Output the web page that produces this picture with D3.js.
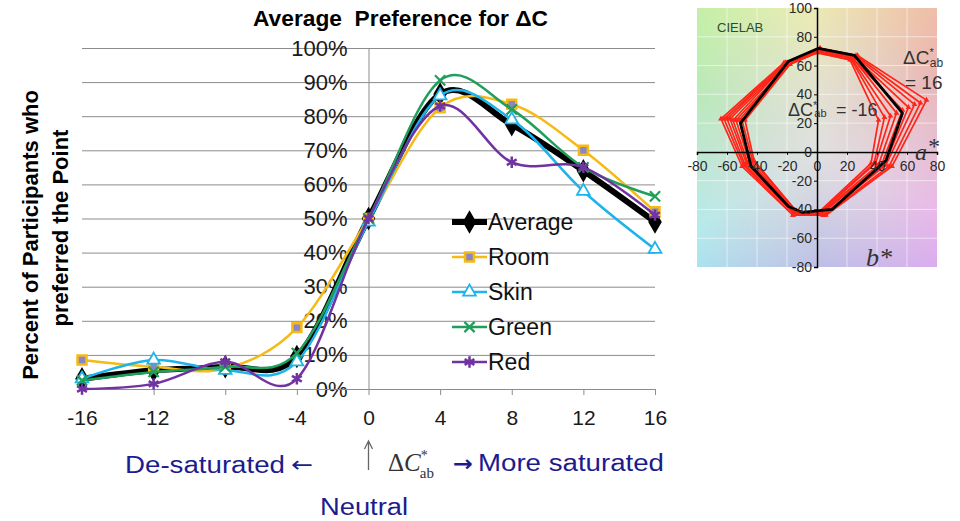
<!DOCTYPE html>
<html>
<head>
<meta charset="utf-8">
<script src="https://cdn.jsdelivr.net/npm/d3@7"></script>
<style>
  body { margin: 0; background: #fff; }
  svg { display: block; font-family: "Liberation Sans", Arial, sans-serif; }
</style>
</head>
<body>
<div id="chart"></div>
<script>
// ---- main chart data (percent of participants) ----
var deltaC = [-16, -12, -8, -4, 0, 4, 8, 12, 16];
var average = [3, 5.5, 6.5, 9.5, 50, 86.5, 77.5, 64, 49];
var room = [8.5, 6.5, 6, 18, 50, 82.5, 83.5, 70, 52];
var skin = [3, 8.5, 5.5, 8, 49, 86, 79, 58, 41];
var green = [2.5, 5, 6.5, 10.5, 50, 90.5, 82, 65, 56.5];
var red = [0, 1.5, 8, 3, 50, 83, 66.5, 65, 51];
var yTicks = [0, 10, 20, 30, 40, 50, 60, 70, 80, 90, 100];

var seriesNames = ["Average", "Room", "Skin", "Green", "Red"];
var seriesColors = ["#000000", "#f5ba14", "#1cb4ea", "#1f9e5c", "#7233a2"];

// ---- CIELAB inset data (a*, b*) ----
var labATicks = [-80, -60, -40, -20, 0, 20, 40, 60, 80];
var labBTicks = [-80, -60, -40, -20, 0, 20, 40, 60, 80, 100];
var blackLocus = [[1, 72], [25, 67], [57, 27], [46, -6], [10, -40], [-10, -42], [-19, -38], [-44, -10], [-51, 20], [-19, 63]];
// one polygon per deltaC level, -16 (inner) .. 16 (outer)
var redLoci = [
  [[0, 69], [22, 64], [41, 22], [36, -8], [0, -43], [-14, -41], [-42, -6], [-48, 22], [-18, 61]],
  [[0, 69], [23, 64], [45, 24], [38, -8], [1, -43], [-14, -41], [-43, -6], [-50, 22], [-18, 61]],
  [[1, 70], [23, 65], [49, 25], [39, -8], [1, -43], [-14, -42], [-44, -7], [-52, 22], [-19, 61]],
  [[1, 70], [24, 65], [53, 27], [41, -9], [2, -43], [-15, -42], [-45, -7], [-54, 22], [-19, 61]],
  [[1, 70], [24, 65], [57, 29], [43, -9], [3, -43], [-15, -42], [-46, -8], [-56, 22], [-20, 62]],
  [[1, 71], [25, 66], [61, 31], [45, -9], [4, -44], [-15, -43], [-47, -8], [-58, 23], [-20, 62]],
  [[2, 71], [26, 66], [65, 33], [46, -9], [4, -44], [-15, -43], [-48, -9], [-60, 23], [-21, 62]],
  [[2, 72], [26, 67], [69, 34], [48, -10], [5, -44], [-16, -44], [-49, -9], [-62, 23], [-21, 62]],
  [[2, 72], [27, 67], [73, 36], [50, -10], [6, -44], [-16, -44], [-50, -10], [-64, 23], [-22, 62]]
];

var W = 960, H = 521;
var navy = "#1c1c8e";
var plain = function (d) { return String(d); };   // hyphen minus like the original

var svg = d3.select("#chart").append("svg")
    .attr("width", W)
    .attr("height", H);

// ================= main line chart =================
var x = d3.scaleLinear().domain([-16, 16]).range([82, 655]);
var y = d3.scaleLinear().domain([0, 100]).range([389, 48]);

// horizontal gridlines
svg.append("g")
    .attr("transform", "translate(" + x(-16) + ",0)")
    .call(d3.axisLeft(y).tickValues(yTicks.slice(1)).tickSize(-(x(16) - x(-16))).tickFormat(""))
    .call(function (g) {
        g.select(".domain").remove();
        g.selectAll("line").attr("stroke", "#8c8c8c");
    });

// vertical axis through 0, labels sit inside the plot
svg.append("g")
    .attr("transform", "translate(" + x(0) + ",0)")
    .call(d3.axisLeft(y).tickValues(yTicks).tickSize(0).tickPadding(21).tickFormat(function (d) { return d + "%"; }))
    .call(function (g) {
        g.select(".domain").attr("stroke", "#8c8c8c");
        g.selectAll("text").attr("font-size", 22).attr("fill", "#1a1a1a")
            .attr("font-family", "Liberation Sans, Arial, sans-serif");
    });

// x axis along 0%
svg.append("g")
    .attr("transform", "translate(0," + y(0) + ")")
    .call(d3.axisBottom(x).tickValues(deltaC).tickSizeInner(6).tickSizeOuter(0).tickPadding(15).tickFormat(plain))
    .call(function (g) {
        g.select(".domain").attr("stroke", "#8c8c8c");
        g.selectAll("line").attr("stroke", "#8c8c8c");
        g.selectAll("text").attr("font-size", 21).attr("fill", "#1a1a1a")
            .attr("font-family", "Liberation Sans, Arial, sans-serif");
    });

// series
var allValues = [average, room, skin, green, red];
var series = seriesNames.map(function (n, i) {
    return { name: n, values: allValues[i], color: seriesColors[i], idx: i };
});

var line = d3.line()
    .x(function (d, i) { return x(deltaC[i]); })
    .y(function (d) { return y(d); })
    .curve(d3.curveCardinal.tension(0));

var symTimes = d3.symbolTimes || d3.symbolCross;
var symStar = d3.symbolAsterisk || d3.symbolCross;

function drawMarker(g, s) {
    if (s.idx === 0) {
        g.append("path").attr("d", d3.symbol(d3.symbolDiamond, 110)())
            .attr("fill", "#000").attr("stroke", "#000").attr("stroke-width", 2);
    } else if (s.idx === 1) {
        g.append("path").attr("d", d3.symbol(d3.symbolSquare, 80)())
            .attr("fill", "#8a86c4").attr("stroke", s.color).attr("stroke-width", 2.5);
    } else if (s.idx === 2) {
        g.append("path").attr("d", d3.symbol(d3.symbolTriangle, 70)())
            .attr("fill", "#fff").attr("stroke", s.color).attr("stroke-width", 1.8);
    } else if (s.idx === 3) {
        g.append("path").attr("d", d3.symbol(symTimes, 70)())
            .attr("fill", "none").attr("stroke", s.color).attr("stroke-width", 2.2);
    } else {
        g.append("path").attr("d", d3.symbol(symStar, 90)())
            .attr("fill", "none").attr("stroke", s.color).attr("stroke-width", 2.5);
    }
}

var sg = svg.append("g").selectAll("g").data(series).join("g");
sg.append("path")
    .attr("d", function (d) { return line(d.values); })
    .attr("fill", "none")
    .attr("stroke", function (d) { return d.color; })
    .attr("stroke-width", function (d) { return d.idx === 0 ? 6 : 2.5; })
    .attr("stroke-linejoin", "round");

sg.each(function (s) {
    d3.select(this).selectAll("g.mk").data(s.values).join("g")
        .attr("class", "mk")
        .attr("transform", function (d, i) { return "translate(" + x(deltaC[i]) + "," + y(d) + ")"; })
        .each(function () { drawMarker(d3.select(this), s); });
});

// legend
var legend = svg.append("g").selectAll("g").data(series).join("g")
    .attr("transform", function (d, i) { return "translate(452," + (222 + i * 35) + ")"; });
legend.append("line")
    .attr("x1", 0).attr("x2", 35)
    .attr("stroke", function (d) { return d.color; })
    .attr("stroke-width", function (d) { return d.idx === 0 ? 6 : 2.5; });
legend.append("g").attr("transform", "translate(17.5,0)")
    .each(function (s) { drawMarker(d3.select(this), s); });
legend.append("text")
    .attr("x", 36).attr("dy", "0.35em")
    .attr("font-size", 23).attr("fill", "#111")
    .text(function (d) { return d.name; });

// title
svg.append("text")
    .attr("x", 253).attr("y", 26)
    .attr("font-size", 22).attr("font-weight", "bold")
    .style("white-space", "pre")
    .attr("textLength", 295).attr("lengthAdjust", "spacingAndGlyphs")
    .text("Average  Preference for \u0394C");

// y title
svg.append("text")
    .attr("transform", "translate(38,235) rotate(-90)")
    .attr("text-anchor", "middle").attr("font-size", 22).attr("font-weight", "bold")
    .text("Percent of Participants who");
svg.append("text")
    .attr("transform", "translate(68,228) rotate(-90)")
    .attr("text-anchor", "middle").attr("font-size", 22).attr("font-weight", "bold")
    .text("preferred the Point");

// bottom annotations
svg.append("text")
    .attr("x", 125).attr("y", 473)
    .attr("font-size", 23).attr("fill", navy)
    .attr("textLength", 160).attr("lengthAdjust", "spacingAndGlyphs")
    .text("De-saturated");
svg.append("text")
    .attr("x", 291).attr("y", 472)
    .attr("font-family", "DejaVu Sans, sans-serif")
    .attr("font-size", 22).attr("fill", navy)
    .attr("textLength", 22).attr("lengthAdjust", "spacingAndGlyphs")
    .text("\u2190");

svg.append("path")
    .attr("d", "M" + x(0) + ",470 V442 M" + (x(0) - 4) + ",449 L" + x(0) + ",441 L" + (x(0) + 4) + ",449")
    .attr("fill", "none").attr("stroke", "#666").attr("stroke-width", 1.3);

var dc = svg.append("text")
    .attr("x", 388).attr("y", 471)
    .attr("font-family", "Liberation Serif, Times New Roman, serif")
    .attr("font-size", 25).attr("fill", "#333");
dc.append("tspan").text("\u0394");
dc.append("tspan").attr("font-style", "italic").text("C");
dc.append("tspan").attr("font-size", 14).attr("dy", -11).text("*");
dc.append("tspan").attr("font-size", 15).attr("dx", -8).attr("dy", 18).text("ab");

svg.append("text")
    .attr("x", 453).attr("y", 471)
    .attr("font-family", "DejaVu Sans, sans-serif")
    .attr("font-size", 22).attr("font-weight", "bold").attr("fill", navy)
    .attr("textLength", 20).attr("lengthAdjust", "spacingAndGlyphs")
    .text("\u2192");
svg.append("text")
    .attr("x", 478).attr("y", 471)
    .attr("font-size", 23).attr("fill", navy)
    .attr("textLength", 186).attr("lengthAdjust", "spacingAndGlyphs")
    .text("More saturated");
svg.append("text")
    .attr("x", 364).attr("y", 515)
    .attr("text-anchor", "middle")
    .attr("font-size", 23).attr("fill", navy)
    .attr("textLength", 88).attr("lengthAdjust", "spacingAndGlyphs")
    .text("Neutral");

// ================= CIELAB inset =================
var ia = d3.scaleLinear().domain([-80, 80]).range([697, 937]);
var ib = d3.scaleLinear().domain([-80, 100]).range([267, 8]);

// pastel a*b* background
var cw = 160, ch = 180;
var canvas = document.createElement("canvas");
canvas.width = cw; canvas.height = ch;
var ctx = canvas.getContext("2d");
var img = ctx.createImageData(cw, ch);
for (var j = 0; j < ch; j++) {
    for (var i = 0; i < cw; i++) {
        var a = ia.domain()[0] + (i + 0.5) * 160 / cw;
        var b = ib.domain()[1] - (j + 0.5) * 180 / ch;
        var r = Math.sqrt(a * a + b * b);
        var hue = (Math.atan2(b, a) * 180 / Math.PI + 327 + 360) % 360;
        var c = d3.hsl(hue, Math.min(1, r / 110) * 0.66, 0.88 - 0.08 * Math.min(1, r / 120)).rgb();
        var k = (j * cw + i) * 4;
        img.data[k] = c.r; img.data[k + 1] = c.g; img.data[k + 2] = c.b; img.data[k + 3] = 255;
    }
}
ctx.putImageData(img, 0, 0);

var inset = svg.append("g");
inset.append("image")
    .attr("href", canvas.toDataURL())
    .attr("x", ia(-80)).attr("y", ib(100))
    .attr("width", ia(80) - ia(-80)).attr("height", ib(-80) - ib(100))
    .attr("preserveAspectRatio", "none");

// faint grid
inset.append("g").selectAll("line").data(labATicks.slice(1, -1)).join("line")
    .attr("x1", function (d) { return ia(d); }).attr("x2", function (d) { return ia(d); })
    .attr("y1", ib(100)).attr("y2", ib(-80))
    .attr("stroke", "#fff").attr("stroke-opacity", 0.55);
inset.append("g").selectAll("line").data(labBTicks.slice(1, -1)).join("line")
    .attr("x1", ia(-80)).attr("x2", ia(80))
    .attr("y1", function (d) { return ib(d); }).attr("y2", function (d) { return ib(d); })
    .attr("stroke", "#fff").attr("stroke-opacity", 0.55);

var locus = d3.line()
    .x(function (d) { return ia(d[0]); })
    .y(function (d) { return ib(d[1]); })
    .curve(d3.curveLinearClosed);

inset.append("g").selectAll("path").data(redLoci).join("path")
    .attr("d", locus)
    .attr("fill", "none").attr("stroke", "#ff2418").attr("stroke-width", 1.7)
    .attr("stroke-linejoin", "round");
inset.append("g").selectAll("path").data(d3.merge(redLoci)).join("path")
    .attr("transform", function (d) { return "translate(" + ia(d[0]) + "," + ib(d[1]) + ")"; })
    .attr("d", d3.symbol(d3.symbolTriangle, 14)())
    .attr("fill", "#ff2418");

inset.append("path")
    .attr("d", locus(blackLocus))
    .attr("fill", "none").attr("stroke", "#000").attr("stroke-width", 2.8)
    .attr("stroke-linejoin", "round");

// axes through the origin
inset.append("g")
    .attr("transform", "translate(0," + ib(0) + ")")
    .call(d3.axisBottom(ia).tickValues(labATicks).tickSize(3).tickPadding(6).tickFormat(plain))
    .call(function (g) {
        g.select(".domain").attr("stroke", "#000").attr("stroke-width", 1.5);
        g.selectAll("text").attr("font-size", 14).attr("fill", "#2a2a2a")
            .attr("font-family", "Liberation Sans, Arial, sans-serif");
    });
inset.append("g")
    .attr("transform", "translate(" + ia(0) + ",0)")
    .call(d3.axisLeft(ib).tickValues(labBTicks).tickSize(3).tickPadding(2).tickFormat(plain))
    .call(function (g) {
        g.select(".domain").attr("stroke", "#000").attr("stroke-width", 1.5);
        g.selectAll("text").attr("font-size", 14).attr("fill", "#2a2a2a")
            .attr("font-family", "Liberation Sans, Arial, sans-serif");
    });

inset.append("text")
    .attr("x", 717).attr("y", 32)
    .attr("font-size", 13).attr("fill", "#2e4a2e")
    .text("CIELAB");

var l1 = inset.append("text").attr("x", 903).attr("y", 64).attr("font-size", 19).attr("fill", "#333");
l1.append("tspan").text("\u0394C");
l1.append("tspan").attr("font-size", 11).attr("dy", -8).text("*");
l1.append("tspan").attr("font-size", 12).attr("dx", -4).attr("dy", 11).text("ab");
inset.append("text").attr("x", 905).attr("y", 89).attr("font-size", 19).attr("fill", "#333").text("= 16");

var l2 = inset.append("text").attr("x", 788).attr("y", 116).attr("font-size", 18).attr("fill", "#333");
l2.append("tspan").text("\u0394C");
l2.append("tspan").attr("font-size", 11).attr("dy", -7).text("*");
l2.append("tspan").attr("font-size", 11).attr("dx", -3).attr("dy", 8).text("ab");
inset.append("text").attr("x", 836).attr("y", 116).attr("font-size", 18).attr("fill", "#333").text("= -16");

var aLab = inset.append("text").attr("x", 915).attr("y", 160)
    .attr("font-family", "Liberation Serif, Times New Roman, serif").attr("font-style", "italic")
    .attr("font-size", 24).attr("fill", "#333");
aLab.append("tspan").text("a");
aLab.append("tspan").attr("dy", -6).text("*");
inset.append("text").attr("x", 866).attr("y", 266)
    .attr("font-family", "Liberation Serif, Times New Roman, serif").attr("font-style", "italic")
    .attr("font-size", 26).attr("fill", "#333")
    .text("b*");
</script>
</body>
</html>
